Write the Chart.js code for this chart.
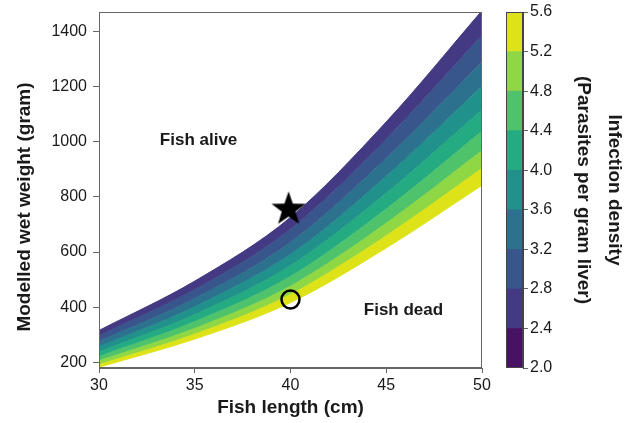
<!DOCTYPE html>
<html>
<head>
<meta charset="utf-8">
<script src="https://cdn.jsdelivr.net/npm/chart.js@4.4.1/dist/chart.umd.min.js"></script>
<style>
  html, body { margin: 0; padding: 0; background: #fff; }
  #wrap { position: relative; width: 629px; height: 423px; }
  #main { position: absolute; left: 0; top: 0; }
  #bar { position: absolute; left: 495px; top: 0; }
</style>
</head>
<body>
<div id="wrap">
  <canvas id="main" width="495" height="423" style="width:495px;height:423px"></canvas>
  <canvas id="bar" width="134" height="423" style="width:134px;height:423px"></canvas>
</div>
<script>
// fish length (cm) where the contour edges were read
const lengths = [30, 35, 40, 45, 50];

// modelled wet weight (g) of each contour edge, one array per density level
const w2_4 = [316, 495, 726, 1072, 1475];
const w2_8 = [297, 465, 684, 1011, 1387];
const w3_2 = [277, 433, 637, 941, 1291];
const w3_6 = [258, 403, 593, 876, 1202];
const w4_0 = [240, 375, 552, 815, 1118];
const w4_4 = [223, 349, 513, 758, 1040];
const w4_8 = [208, 325, 478, 706, 969];
const w5_2 = [194, 304, 448, 661, 905];
const w5_6 = [183, 285, 417, 615, 842];

// colour bar levels (parasites per gram liver) and band colours
const levels = [2.0, 2.4, 2.8, 3.2, 3.6, 4.0, 4.4, 4.8, 5.2, 5.6];
const bandColors = ["#471164", "#443a83", "#39568c", "#2c728e", "#21918c",
                    "#25ab82", "#4ec36b", "#8fd744", "#dde318"];

const weightTicks = [200, 400, 600, 800, 1000, 1200, 1400];
const lengthTicks = [30, 35, 40, 45, 50];

// the two marked fish
const starFish = { x: 39.9, y: 755 };
const circleFish = { x: 40, y: 428 };

const FONT = "'Liberation Sans', Arial, sans-serif";
const AXIS = "#666";
const TEXT = "#1a1a1a";

function makeStar(r) {
    const c = document.createElement("canvas");
    c.width = c.height = 2 * r + 2;
    const g = c.getContext("2d");
    g.fillStyle = "#000";
    g.beginPath();
    for (let i = 0; i < 10; i++) {
        const rad = i % 2 ? r * 0.4 : r;
        const a = -Math.PI / 2 + i * Math.PI / 5;
        g.lineTo(r + 1 + rad * Math.cos(a), r + 1 + rad * Math.sin(a));
    }
    g.closePath();
    g.fill();
    return c;
}

function noOverflow(s) {
    s.paddingTop = 0;
    s.paddingBottom = 0;
    s.paddingLeft = 0;
    s.paddingRight = 0;
}

const boundaries = [w2_4, w2_8, w3_2, w3_6, w4_0, w4_4, w4_8, w5_2, w5_6];

const bandSets = boundaries.map((w, i) => {
    const k = i + 1; // level index of this edge
    const last = i === boundaries.length - 1;
    const color = bandColors[Math.min(k, bandColors.length - 1)];
    return {
        data: lengths.map((x, j) => ({ x: x, y: w[j] })),
        borderColor: color,
        borderWidth: 1,
        backgroundColor: color,
        fill: last ? false : "+1",
        pointRadius: 0,
        cubicInterpolationMode: "monotone"
    };
});

const decor = {
    id: "decor",
    afterDraw(chart) {
        const { ctx, chartArea: a, scales: { x, y } } = chart;
        ctx.save();
        ctx.strokeStyle = AXIS;
        ctx.lineWidth = 1;
        ctx.strokeRect(a.left + 0.5, a.top + 0.5, a.right - a.left - 1, a.bottom - a.top - 1);

        ctx.fillStyle = TEXT;
        ctx.font = "bold 17px " + FONT;
        ctx.textAlign = "center";
        ctx.textBaseline = "middle";
        ctx.fillText("Fish alive", x.getPixelForValue(35.2), y.getPixelForValue(1005));
        ctx.fillText("Fish dead", x.getPixelForValue(45.9), y.getPixelForValue(390));

        ctx.font = "bold 19px " + FONT;
        ctx.translate(25, 207);
        ctx.rotate(-Math.PI / 2);
        ctx.fillText("Modelled wet weight (gram)", 0, 0);
        ctx.restore();
    }
};

new Chart(document.getElementById("main"), {
    type: "line",
    data: {
        datasets: bandSets.concat([
            {
                data: [starFish],
                showLine: false,
                pointStyle: makeStar(18),
                pointRadius: 18,
                fill: false,
                order: -1
            },
            {
                data: [circleFish],
                showLine: false,
                pointStyle: "circle",
                pointRadius: 9,
                pointBorderWidth: 2.5,
                pointBorderColor: "#000",
                pointBackgroundColor: "rgba(0,0,0,0)",
                fill: false,
                order: -1
            }
        ])
    },
    options: {
        responsive: false,
        animation: false,
        layout: { autoPadding: false, padding: { left: 0, top: 12, right: 13, bottom: 0 } },
        plugins: { legend: { display: false }, tooltip: { enabled: false } },
        scales: {
            x: {
                type: "linear",
                min: 30,
                max: 50,
                afterBuildTicks: s => { s.ticks = lengthTicks.map(v => ({ value: v })); },
                afterFit: s => { s.height = 55; noOverflow(s); },
                ticks: {
                    font: { family: FONT, size: 16 },
                    color: TEXT,
                    padding: 3,
                    maxRotation: 0,
                    callback: v => String(v)
                },
                grid: { drawOnChartArea: false, tickLength: 5, color: AXIS },
                border: { color: AXIS },
                title: {
                    display: true,
                    text: "Fish length (cm)",
                    font: { family: FONT, size: 19, weight: "bold" },
                    color: TEXT,
                    padding: { top: 0, bottom: 4 }
                }
            },
            y: {
                type: "linear",
                min: 180,
                max: 1470,
                afterBuildTicks: s => { s.ticks = weightTicks.map(v => ({ value: v })); },
                afterFit: s => { s.width = 99; noOverflow(s); },
                ticks: {
                    font: { family: FONT, size: 16 },
                    color: TEXT,
                    padding: 6,
                    callback: v => String(v)
                },
                grid: { drawOnChartArea: false, tickLength: 6, color: AXIS },
                border: { color: AXIS }
            }
        }
    },
    plugins: [decor]
});

// colour bar
const outline = {
    id: "outline",
    afterDraw(chart) {
        const { ctx, chartArea: a } = chart;
        ctx.save();
        ctx.strokeStyle = "#444";
        ctx.lineWidth = 1;
        ctx.strokeRect(a.left + 0.5, a.top + 0.5, a.right - a.left - 1, a.bottom - a.top - 1);
        ctx.restore();
    }
};

new Chart(document.getElementById("bar"), {
    type: "bar",
    data: {
        labels: ["density"],
        datasets: bandColors.map((c, i) => ({
            data: [[levels[i], levels[i + 1]]],
            backgroundColor: c,
            borderWidth: 0,
            grouped: false,
            barPercentage: 1,
            categoryPercentage: 1
        }))
    },
    options: {
        responsive: false,
        animation: false,
        layout: { autoPadding: false, padding: { left: 11, top: 12, right: 0, bottom: 55 } },
        plugins: { legend: { display: false }, tooltip: { enabled: false } },
        scales: {
            x: { display: false },
            y: {
                position: "right",
                min: levels[0],
                max: levels[levels.length - 1],
                afterBuildTicks: s => { s.ticks = levels.map(v => ({ value: v })); },
                afterFit: s => { s.width = 106; noOverflow(s); },
                ticks: {
                    font: { family: FONT, size: 16 },
                    color: TEXT,
                    padding: 2,
                    callback: v => v.toFixed(1)
                },
                grid: { drawOnChartArea: false, tickLength: 5, color: AXIS },
                border: { color: "#444" },
                title: {
                    display: true,
                    text: ["Infection density", "(Parasites per gram liver)"],
                    font: { family: FONT, size: 19, weight: "bold", lineHeight: 1.6 },
                    color: TEXT,
                    padding: 0
                }
            }
        }
    },
    plugins: [outline]
});
</script>
</body>
</html>
